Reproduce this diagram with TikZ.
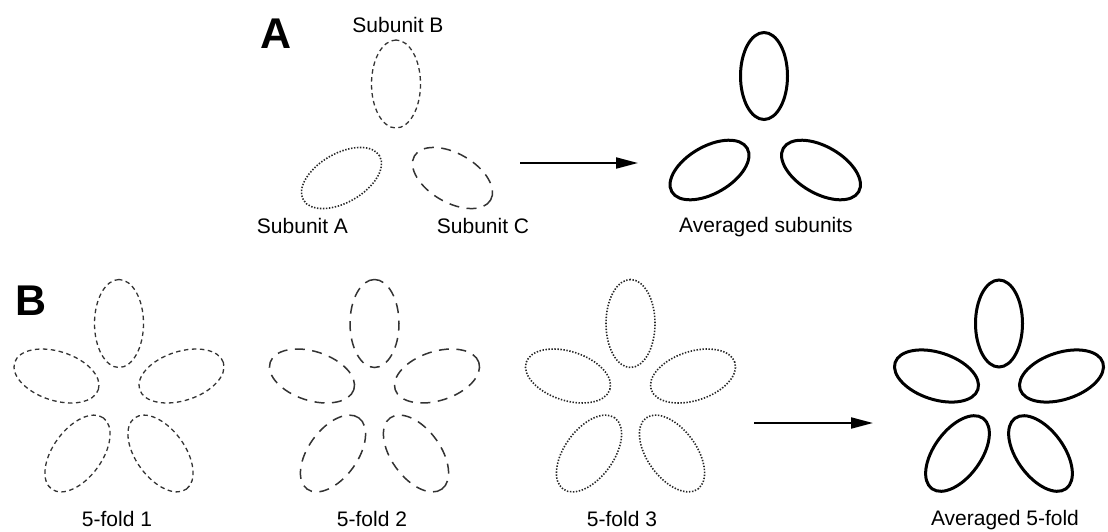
\documentclass[tikz,border=0pt]{standalone}
\usepackage{fontspec}
\setmainfont{Liberation Sans}
\usetikzlibrary{shapes.geometric,arrows.meta}

\tikzset{
  petal/.style={ellipse, inner sep=0pt, minimum width=88pt, minimum height=49pt},
  shortdash/.style={petal, draw=black!80, line width=1.3pt, dash pattern=on 4.5pt off 3.5pt},
  longdash/.style={petal, draw=black!80, line width=1.5pt, dash pattern=on 10pt off 7.5pt},
  dotline/.style={petal, draw=black!85, line width=1.6pt, dash pattern=on 1.4pt off 1.6pt},
  solidpetal/.style={petal, draw=black, line width=3pt, minimum width=87pt, minimum height=47pt},
  caption/.style={font=\fontsize{21}{25}\selectfont, anchor=base, inner sep=0pt},
  panel/.style={font=\fontsize{43}{49}\selectfont\bfseries, anchor=base, inner sep=0pt},
  flow/.style={line width=2pt, -{Triangle[length=22pt,width=11pt]}}
}

% five petals around a centre column cx: top, sides, lower pair
\newcommand{\fivefold}[3]{% #1 name prefix, #2 centre x, #3 style
  \node[#3, rotate=90]  (#1t)  at (#2,323.5) {};
  \node[#3, rotate=-18] (#1l)  at ({#2-62.5},376) {};
  \node[#3, rotate=18]  (#1r)  at ({#2+62.5},376) {};
  \node[#3, rotate=54]  (#1bl) at ({#2-41.5},453.5) {};
  \node[#3, rotate=-54] (#1br) at ({#2+41.5},453.5) {};
}

\begin{document}
\begin{tikzpicture}[x=1pt, y=-1pt]
  \useasboundingbox (0,0) rectangle (1108,531);

  % ---- panel A: three subunits and their average ----
  \node[panel] (labA) at (276,48) {A};

  \node[shortdash, rotate=90]  (subB) at (396,84) {};
  \node[dotline,   rotate=30]  (subA) at (341.5,178) {};
  \node[longdash,  rotate=-30] (subC) at (452.5,178) {};

  \node[caption] (capB) at (398,32)   {Subunit B};
  \node[caption] (capA) at (302.5,233) {Subunit A};
  \node[caption] (capC) at (483,233)  {Subunit C};

  \node[solidpetal, rotate=90]  (avgT)  at (764,76) {};
  \node[solidpetal, rotate=30]  (avgL)  at (709.5,170) {};
  \node[solidpetal, rotate=-30] (avgR)  at (821,170) {};
  \node[caption] (capAvg) at (766,232) {Averaged subunits};

  \coordinate (arrAs) at (520,163);
  \coordinate (arrAe) at (638,163);
  \draw[flow] (arrAs) -- (arrAe);

  % ---- panel B: three 5-fold assemblies and their average ----
  \node[panel] (labB) at (31.5,315) {B};

  \fivefold{f1}{119}{shortdash}
  \fivefold{f2}{374.5}{longdash}
  \fivefold{f3}{630.5}{dotline}
  \fivefold{fa}{999}{solidpetal}

  \node[caption] (cap1)  at (117,526)  {5-fold 1};
  \node[caption] (cap2)  at (372,526)  {5-fold 2};
  \node[caption] (cap3)  at (622,526)  {5-fold 3};
  \node[caption] (capfa) at (1005,525.5) {Averaged 5-fold};

  \coordinate (arrBs) at (754,423);
  \coordinate (arrBe) at (873,423);
  \draw[flow] (arrBs) -- (arrBe);
\end{tikzpicture}
\end{document}
